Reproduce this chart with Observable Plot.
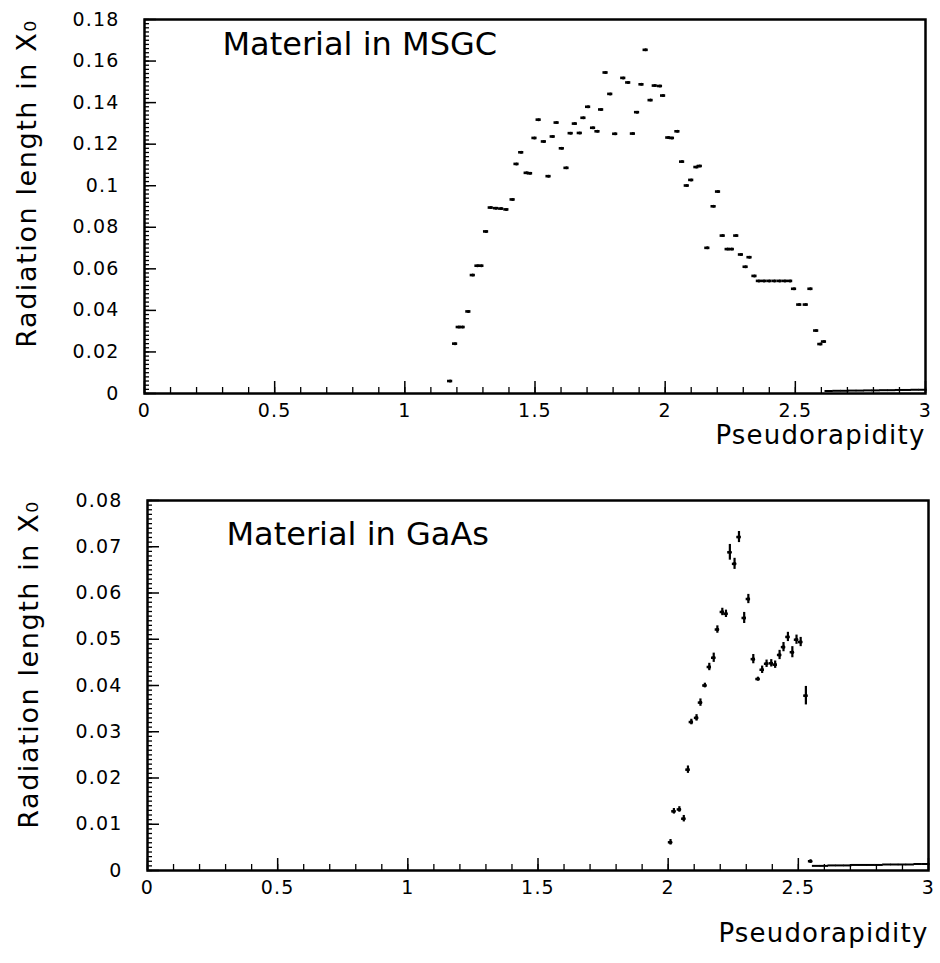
<!DOCTYPE html>
<html><head><meta charset="utf-8">
<script src="https://cdn.jsdelivr.net/npm/d3@7"></script>
<script src="https://cdn.jsdelivr.net/npm/@observablehq/plot@0.6"></script>
<style>
body{margin:0;background:#fff;}
#chart svg{display:block;}
</style>
</head><body><div id="chart"></div>
<script>
// ---- Data: material in MSGC (top panel) ----
const msgcEta = [1.174,1.193,1.207,1.222,1.244,1.261,1.279,1.294,1.312,1.330,1.350,1.370,1.390,1.414,1.429,1.447,1.468,1.481,1.498,1.514,1.534,1.552,1.568,1.583,1.603,1.621,1.637,1.653,1.672,1.686,1.704,1.723,1.740,1.754,1.771,1.789,1.808,1.839,1.858,1.876,1.892,1.909,1.925,1.944,1.960,1.980,1.992,2.012,2.026,2.047,2.065,2.083,2.100,2.120,2.133,2.162,2.186,2.203,2.221,2.240,2.256,2.273,2.291,2.309,2.324,2.343,2.360,2.380,2.400,2.420,2.440,2.460,2.480,2.495,2.515,2.540,2.558,2.580,2.596,2.610];
const msgcX0  = [0.006,0.024,0.032,0.032,0.0395,0.057,0.0615,0.0615,0.078,0.0895,0.0892,0.0890,0.0886,0.0934,0.1105,0.1161,0.1062,0.1060,0.123,0.1318,0.1213,0.1046,0.1237,0.1304,0.118,0.1086,0.1253,0.1299,0.1254,0.1327,0.138,0.1279,0.1262,0.1367,0.1545,0.1442,0.125,0.1519,0.1497,0.1251,0.1354,0.1488,0.1654,0.1412,0.1482,0.1480,0.1434,0.1232,0.1230,0.1262,0.1116,0.1001,0.1028,0.1090,0.1095,0.0701,0.0901,0.0972,0.076,0.0695,0.0695,0.076,0.0669,0.061,0.0656,0.0566,0.0542,0.0542,0.0542,0.0542,0.0542,0.0542,0.0542,0.0504,0.0428,0.0428,0.0504,0.0303,0.0238,0.0250];
const msgcTailEta = [2.63,2.66,2.69,2.72,2.75,2.78,2.81,2.84,2.87,2.90,2.93,2.96,2.99];
const msgcTailX0  = [0.0012,0.0013,0.0013,0.0014,0.0014,0.0015,0.0015,0.0016,0.0016,0.0017,0.0017,0.0018,0.0018];

// ---- Data: material in GaAs (bottom panel) ----
const gaasEta = [2.009,2.022,2.043,2.060,2.076,2.089,2.109,2.124,2.141,2.158,2.175,2.189,2.208,2.222,2.237,2.255,2.272,2.292,2.308,2.327,2.345,2.361,2.378,2.396,2.411,2.428,2.443,2.460,2.477,2.493,2.509,2.529,2.547];
const gaasX0  = [0.0061,0.0128,0.0132,0.0112,0.0218,0.0321,0.0330,0.0363,0.0400,0.0440,0.0460,0.0521,0.0559,0.0555,0.0688,0.0663,0.0721,0.0546,0.0587,0.0457,0.0414,0.0434,0.0447,0.0448,0.0445,0.0466,0.0483,0.0505,0.0472,0.0499,0.0494,0.0378,0.0020];
const gaasErr = [0.0006,0.0006,0.0006,0.0007,0.0008,0.0006,0.0007,0.0008,0.0005,0.0008,0.0010,0.0008,0.0008,0.0008,0.0017,0.0012,0.0012,0.0012,0.0010,0.0010,0.0004,0.0008,0.0008,0.0008,0.0008,0.0010,0.0010,0.0010,0.0012,0.0010,0.0010,0.0020,0.0003];
const gaasTailEta = [2.57,2.60,2.63,2.66,2.69,2.72,2.75,2.78,2.81,2.84,2.87,2.90,2.93,2.96,2.99];
const gaasTailX0  = [0.0010,0.0010,0.0011,0.0011,0.0011,0.0012,0.0012,0.0012,0.0012,0.0013,0.0013,0.0013,0.0013,0.0014,0.0014];

// ---- Tick labels ----
const xTicks = [0,0.5,1,1.5,2,2.5,3];
const xTickLabels = ["0","0.5","1","1.5","2","2.5","3"];
const msgcYTicks = [0,0.02,0.04,0.06,0.08,0.1,0.12,0.14,0.16,0.18];
const msgcYTickLabels = ["0","0.02","0.04","0.06","0.08","0.1","0.12","0.14","0.16","0.18"];
const gaasYTicks = [0,0.01,0.02,0.03,0.04,0.05,0.06,0.07,0.08];
const gaasYTickLabels = ["0","0.01","0.02","0.03","0.04","0.05","0.06","0.07","0.08"];
const titles = ["Material in MSGC","Material in GaAs"];
const xLabel = "Pseudorapidity";
const yLabel = "Radiation length in X\u2080";

const FONT = "'DejaVu Sans', sans-serif";

function panel(o) {
  const pts = o.eta.map((e,i)=>({eta:e, v:o.x0[i], err:o.err ? o.err[i] : 0}));
  const tail = o.tailEta.map((e,i)=>({eta:e, v:o.tailX0[i]}));
  const yMinor = d3.range(0, o.yMax + 1e-9, o.yMinorStep);
  const xMinor = d3.range(0, 3.0001, 0.1);
  const plotH = o.height - o.marginTop - o.marginBottom;
  const plotW = 940 - o.marginLeft - o.marginRight;
  const pxX = p => p * 3 / plotW;        // pixel length -> eta units
  const pxY = p => p * o.yMax / plotH;   // pixel length -> value units
  const tx = Plot.text; // alias
  const marks = [
    // inward ticks
    Plot.ruleY(yMinor, {y: d=>d, x1: 0, x2: pxX(5), stroke: "black", strokeWidth: 1.3}),
    Plot.ruleY(o.yTicks, {y: d=>d, x1: 0, x2: pxX(12), stroke: "black", strokeWidth: 1.5}),
    Plot.ruleX(xMinor, {x: d=>d, y1: 0, y2: pxY(6), stroke: "black", strokeWidth: 1.3}),
    Plot.ruleX(xTicks, {x: d=>d, y1: 0, y2: pxY(12), stroke: "black", strokeWidth: 1.5}),
    Plot.axisY(o.yTicks, {tickSize: 0, tickPadding: o.yPad, tickFormat: (d,i)=>o.yTickLabels[i], fontSize: 19, label: null}),
    Plot.axisX(xTicks, {tickSize: 0, tickPadding: 10, tickFormat: (d,i)=>xTickLabels[i], fontSize: 19, label: null}),
    Plot.frame({stroke: "black", strokeWidth: 2.5}),
    // zero-level bins
    Plot.ruleY(tail, {y: "v", x1: d=>d.eta - 0.016, x2: d=>d.eta + 0.016, stroke: "black", strokeWidth: 2})
  ];
  if (o.err) {
    marks.push(Plot.ruleX(pts, {x: "eta", y1: d=>d.v - d.err, y2: d=>d.v + d.err, stroke: "black", strokeWidth: 2.2}));
    marks.push(Plot.ruleY(pts, {y: "v", x1: d=>d.eta - pxX(2.2), x2: d=>d.eta + pxX(2.2), stroke: "black", strokeWidth: 2.5}));
    marks.push(Plot.dot(pts, {x: "eta", y: "v", r: 1.8, fill: "black"}));
  } else {
    marks.push(Plot.ruleY(pts, {y: "v", x1: d=>d.eta - pxX(2.6), x2: d=>d.eta + pxX(2.6), stroke: "black", strokeWidth: 2.6}));
    marks.push(Plot.dot(pts, {x: "eta", y: "v", r: 1.5, fill: "black"}));
  }
  marks.push(tx([o.title], {frameAnchor: "top-left", dx: o.titleDx, dy: o.titleDy, textAnchor: "start", lineAnchor: "middle", fontSize: 32, fill: "black", className: "ttl"}));
  marks.push(tx([xLabel], {frameAnchor: "bottom-right", dx: 0, dy: o.xLabelDy, textAnchor: "end", lineAnchor: "middle", fontSize: 26, fill: "black", className: "xl"}));
  marks.push(tx([yLabel], {frameAnchor: "left", dx: o.yLabelDx, dy: o.yLabelDy, rotate: -90, textAnchor: "middle", lineAnchor: "middle", fontSize: 27, fill: "black", className: "yl"}));

  const svg = Plot.plot({
    width: 940, height: o.height,
    marginTop: o.marginTop, marginBottom: o.marginBottom, marginLeft: o.marginLeft, marginRight: o.marginRight,
    x: {domain: [0, 3]},
    y: {domain: [0, o.yMax]},
    style: {fontFamily: FONT, color: "black", background: "white", overflow: "visible"},
    marks
  });
  // letter spacing to mimic the wide original plotting font
  svg.querySelectorAll("text").forEach(t => { t.style.letterSpacing = "1.2px"; });
  svg.querySelectorAll(".yl text").forEach(t => { t.style.letterSpacing = "1.6px"; });
  svg.querySelectorAll(".ttl text").forEach(t => { t.style.letterSpacing = "0px"; });
  return svg;
}

const chart = document.getElementById("chart");
chart.append(panel({
  eta: msgcEta, x0: msgcX0, tailEta: msgcTailEta, tailX0: msgcTailX0,
  yMax: 0.18, yTicks: msgcYTicks, yTickLabels: msgcYTickLabels, yMinorStep: 0.002,
  title: titles[0], height: 460, marginTop: 19, marginBottom: 67, marginLeft: 144, marginRight: 15,
  yPad: 25, titleDx: 78, titleDy: 25, xLabelDy: 42, yLabelDx: -117, yLabelDy: -23
}));
chart.append(panel({
  eta: gaasEta, x0: gaasX0, err: gaasErr, tailEta: gaasTailEta, tailX0: gaasTailX0,
  yMax: 0.08, yTicks: gaasYTicks, yTickLabels: gaasYTickLabels, yMinorStep: 0.001,
  title: titles[1], height: 503, marginTop: 40, marginBottom: 93, marginLeft: 147, marginRight: 12,
  yPad: 25, titleDx: 79, titleDy: 34, xLabelDy: 63, yLabelDx: -118, yLabelDy: -21
}));
</script>
</body></html>
